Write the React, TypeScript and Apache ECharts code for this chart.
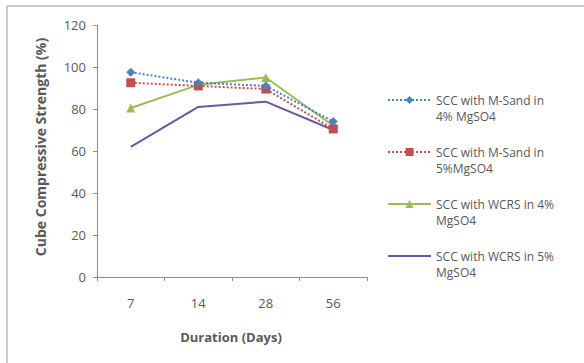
import React, { useEffect, useRef } from "react";
import * as echarts from "echarts";

const categories = ["7", "14", "28", "56"];
const seriesNames = [
  "SCC with M-Sand in\n4% MgSO4",
  "SCC with M-Sand in\n5%MgSO4",
  "SCC with WCRS in 4%\nMgSO4",
  "SCC with WCRS in 5%\nMgSO4",
];
const msand4 = [97.5, 92.5, 91, 74];
const msand5 = [92.5, 91, 89.5, 70.5];
const wcrs4 = [80.5, 91.5, 95, 72];
const wcrs5 = [62, 81, 83.5, 70];
const yTicks = { min: 0, max: 120, interval: 20 };

const FONT = "Open Sans";

export default function App() {
  const ref = useRef<HTMLDivElement>(null);
  useEffect(() => {
    document.body.style.margin = "0";
    const chart = echarts.init(ref.current!, null, { renderer: "svg" });
    const colors = ["#4F81BD", "#C0504D", "#9BBB59", "#6B58A0"];
    const datas = [msand4, msand5, wcrs4, wcrs5];
    const symbols = ["diamond", "rect", "triangle", "none"];
    const symbolSizes = [9, 9, 9, 0];
    const types = ["dotted", "dotted", "solid", "solid"];
    chart.setOption({
      animation: false,
      backgroundColor: "#ffffff",
      textStyle: { fontFamily: FONT },
      graphic: [
        {
          type: "rect",
          shape: { x: 7, y: 6, width: 700, height: 500 },
          style: { fill: "none", stroke: "#9a9a9a", lineWidth: 1 },
          silent: true,
          z: 0,
        },
        {
          type: "text",
          x: 40,
          y: 147,
          rotation: Math.PI / 2,
          style: {
            text: "Cube Compressive Strength (%)",
            font: `bold 14px '${FONT}'`,
            fill: "#595959",
            align: "center",
            verticalAlign: "middle",
          },
        },
        {
          type: "text",
          x: 231,
          y: 337,
          style: {
            text: "Duration (Days)",
            font: `bold 13px '${FONT}'`,
            fill: "#595959",
            align: "center",
            verticalAlign: "middle",
          },
        },
      ],
      grid: { left: 97, top: 25, right: 217, bottom: 86, containLabel: false },
      xAxis: {
        type: "category",
        data: categories,
        boundaryGap: true,
        axisLine: { lineStyle: { color: "#8c8c8c", width: 1 } },
        axisTick: { show: true, inside: false, length: 4, alignWithLabel: false, lineStyle: { color: "#8c8c8c" } },
        axisLabel: { color: "#595959", fontSize: 13, margin: 19, fontFamily: FONT },
        splitLine: { show: false },
      },
      yAxis: {
        type: "value",
        min: yTicks.min,
        max: yTicks.max,
        interval: yTicks.interval,
        axisLine: { show: true, lineStyle: { color: "#8c8c8c", width: 1 } },
        axisTick: { show: true, length: 4, lineStyle: { color: "#8c8c8c" } },
        axisLabel: { color: "#595959", fontSize: 13, margin: 11, fontFamily: FONT },
        splitLine: { show: false },
      },
      legend: {
        orient: "vertical",
        left: 382,
        top: 71,
        padding: 5,
        itemWidth: 43,
        itemHeight: 10,
        itemGap: 4,
        formatter: (name: string) => "\n" + name,
        textStyle: {
          color: "#595959",
          fontSize: 12,
          lineHeight: 16,
          fontFamily: FONT,
        },
        data: seriesNames.map((n, i) =>
          i === 3 ? { name: n, itemStyle: { color: "rgba(0,0,0,0)", borderWidth: 0 } } : { name: n }
        ),
      },
      series: datas.map((d, i) => ({
        name: seriesNames[i],
        type: "line",
        data: d,
        symbol: symbols[i],
        symbolSize: symbolSizes[i],
        showSymbol: symbols[i] !== "none",
        color: colors[i],
        lineStyle: { color: colors[i], width: 2, type: types[i] },
        itemStyle: { color: colors[i] },
        z: 10 - i,
      })),
    });
    return () => chart.dispose();
  }, []);
  return <div ref={ref} style={{ width: 584, height: 363 }} />;
}
